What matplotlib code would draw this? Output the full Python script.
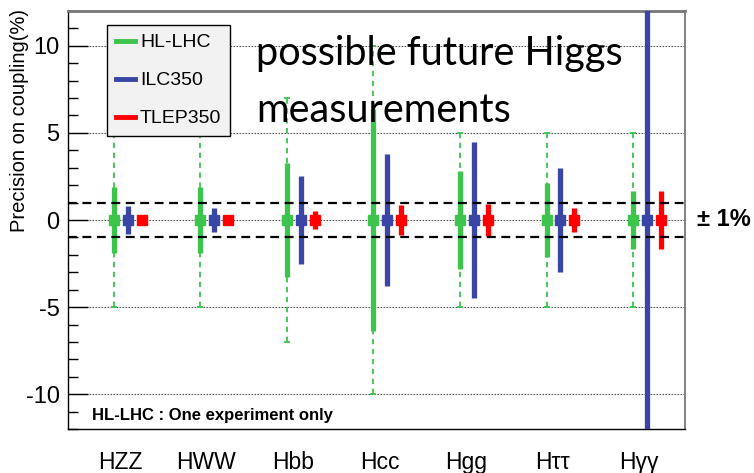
import numpy as np
import matplotlib.pyplot as plt
from matplotlib.lines import Line2D

# Relative precision on Higgs couplings (%), symmetric errors
channels = ['HZZ', 'HWW', 'Hbb', 'Hcc', 'Hgg', 'H\u03c4\u03c4', 'H\u03b3\u03b3']
hl_lhc = [1.9, 1.9, 3.3, 6.35, 2.8, 2.15, 1.65]
hl_lhc_outer = [5, 5, 7, 10, 5, 5, 5]
ilc350 = [0.8, 0.7, 2.5, 3.8, 4.5, 3.0, 17.0]
tlep350 = [0.16, 0.15, 0.5, 0.85, 0.9, 0.7, 1.65]

green = '#3cc44c'
blue = '#3946a6'
red = '#ff0000'

x = np.arange(len(channels))
dx = 0.16

fig = plt.figure(figsize=(7.54, 4.73), dpi=100)
ax = fig.add_axes([68/754, 44/473, 617/754, 418/473])
ax.set_xlim(-0.53, 6.60)
ax.set_ylim(-12, 12)

# dotted reference lines at the major ticks
for yv in [-10, -5, 0, 5, 10]:
    ax.axhline(yv, color='#555555', lw=0.8, ls=(0, (1.5, 1.2)), zorder=1)

# outer HL-LHC range (dashed whiskers)
eb = ax.errorbar(x, np.zeros(len(x)), yerr=hl_lhc_outer, fmt='none', ecolor=green,
                 elinewidth=1.3, capsize=2.5, capthick=1.3, zorder=2)
eb[2][0].set_linestyle((0, (3, 2.5)))

# the three scenarios
series = [(hl_lhc, green, 0.0), (ilc350, blue, dx), (tlep350, red, 2*dx)]
for err, col, off in series:
    ax.errorbar(x + off, np.zeros(len(x)), yerr=err, fmt='s', color=col, ms=7,
                elinewidth=3.8, capsize=0, zorder=3)

# +-1% band
for yv in [-1, 1]:
    ax.axhline(yv, color='black', lw=1.6, ls=(0, (4, 2.5)), zorder=4)

ax.set_yticks([-10, -5, 0, 5, 10])
ax.set_yticklabels(['-10', '-5', '0', '5', '10'])
ax.set_yticks(np.arange(-12, 13, 1), minor=True)
ax.tick_params(axis='y', which='major', direction='in', length=14.5, width=1,
               labelsize=17, pad=6, right=False)
ax.tick_params(axis='y', which='minor', direction='in', length=7, width=1, right=False)
for lab in ax.get_yticklabels():
    lab.set_family(['Liberation Sans', 'DejaVu Sans'])

ax.set_xticks(x + 0.07)
ax.set_xticklabels(channels, family=['Liberation Sans Narrow', 'Liberation Sans', 'DejaVu Sans'],
                   fontsize=16.5)
ax.tick_params(axis='x', length=0, pad=16)

for side in ['left', 'bottom']:
    ax.spines[side].set_color('black')
    ax.spines[side].set_linewidth(1)
ax.spines['top'].set_color('#777777')
ax.spines['top'].set_linewidth(2)
ax.spines['right'].set_color('#777777')
ax.spines['right'].set_linewidth(1.3)

handles = [Line2D([], [], color=green, lw=3.5),
           Line2D([], [], color=blue, lw=3.5),
           Line2D([], [], color=red, lw=3.5)]
leg = fig.legend(handles, ['HL-LHC', 'ILC350', 'TLEP350'], loc='upper left',
                 bbox_to_anchor=(107/754, 1 - 25/473), borderaxespad=0,
                 prop={'family': 'Liberation Sans', 'size': 14},
                 handlelength=1.0, handletextpad=0.25, labelspacing=1.05,
                 borderpad=0.45, fancybox=False, framealpha=1,
                 facecolor='#f2f2f2', edgecolor='black')
leg.get_frame().set_linewidth(1)

ax.text(92/754, 1 - 415/473, 'HL-LHC : One experiment only', transform=fig.transFigure,
        fontsize=12, fontweight='bold', family='Liberation Sans', va='center', ha='left')

fig.text(697/754, 1 - 219/473, '\u00b1 1%', fontsize=17, fontweight='bold',
         family='Liberation Sans', va='center', ha='left')

fig.text(20/754, 1 - 120/473, 'Precision on coupling(%)', rotation=90, fontsize=14.5,
         family='Liberation Sans', va='center', ha='center')

fig.text(256/754, 1 - 65/473, 'possible future Higgs', fontsize=28.5, family='Lato',
         va='baseline', ha='left')
fig.text(256/754, 1 - 122/473, 'measurements', fontsize=28.5, family='Lato',
         va='baseline', ha='left')

fig.savefig('out.png', dpi=100)
